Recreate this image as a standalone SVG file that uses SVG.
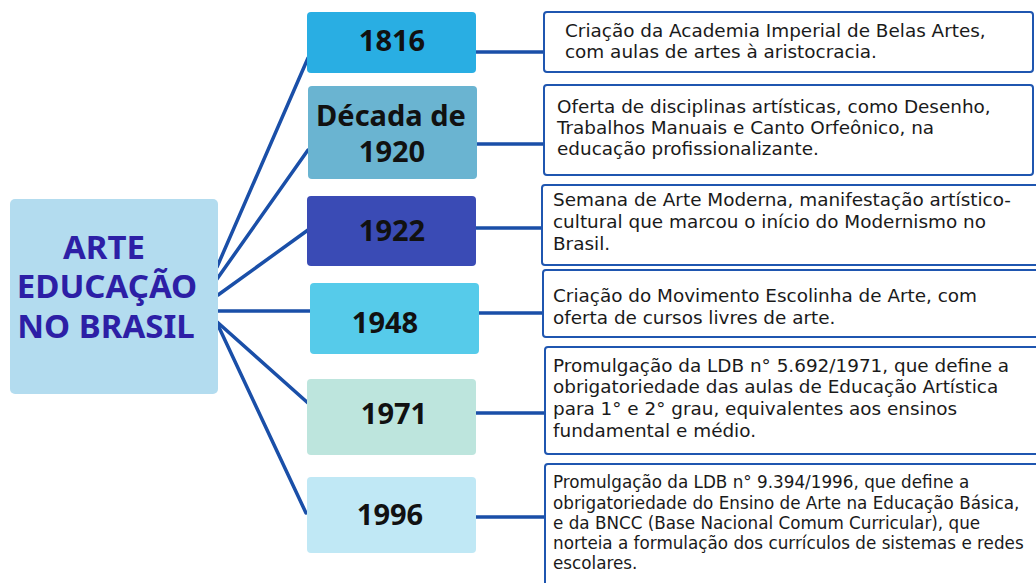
<svg xmlns="http://www.w3.org/2000/svg" width="1036" height="583" viewBox="0 0 1036 583">
<style>
.year{font-family:"Noto Sans","DejaVu Sans",sans-serif;font-weight:700;font-size:29px;fill:#111;text-anchor:middle}
.main{font-family:"Noto Sans","DejaVu Sans",sans-serif;font-weight:700;font-size:33px;fill:#2d1fa6;text-anchor:middle}
.desc{font-family:"DejaVu Sans",sans-serif;font-size:18.4px;fill:#1a1a1a}
.small{font-size:16.8px}
.tbox{fill:#ffffff;stroke:#1f56b0;stroke-width:2}
.conn line{stroke:#1a4fa8;stroke-width:3.5;stroke-linecap:round}
</style>
<rect width="1036" height="583" fill="#ffffff"/>
<g class="conn" id="connectors">
<line x1="217" y1="267" x2="308" y2="58"/>
<line x1="217" y1="279" x2="308" y2="150"/>
<line x1="218" y1="295" x2="308" y2="230"/>
<line x1="218" y1="311" x2="310" y2="311"/>
<line x1="216" y1="321" x2="308" y2="403"/>
<line x1="216" y1="321" x2="306" y2="513"/>
<line x1="476" y1="52" x2="544" y2="52"/>
<line x1="477" y1="144" x2="544" y2="144"/>
<line x1="476" y1="228" x2="542" y2="228"/>
<line x1="479" y1="313" x2="543" y2="313"/>
<line x1="476" y1="413" x2="545" y2="413"/>
<line x1="476" y1="517" x2="545" y2="517"/>
</g>
<g id="main">
<rect x="10" y="199" width="208" height="195" rx="5" fill="#b3dcef"/>
<text class="main" x="104" y="259">ARTE</text>
<text class="main" x="107" y="298">EDUCAÇÃO</text>
<text class="main" x="106" y="338">NO BRASIL</text>
</g>
<g id="y1816">
<rect x="307" y="12" width="169" height="61" rx="4" fill="#29aee3"/>
<text class="year" x="392" y="51">1816</text>
</g>
<g id="y1920">
<rect x="308" y="86" width="169" height="93" rx="4" fill="#6ab4d1"/>
<text class="year" x="391" y="126">Década de</text>
<text class="year" x="392" y="162">1920</text>
</g>
<g id="y1922">
<rect x="307" y="196" width="169" height="70" rx="4" fill="#3a4bb5"/>
<text class="year" x="392" y="241">1922</text>
</g>
<g id="y1948">
<rect x="310" y="283" width="169" height="71" rx="4" fill="#56cbea"/>
<text class="year" x="385" y="333">1948</text>
</g>
<g id="y1971">
<rect x="307" y="379" width="169" height="76" rx="4" fill="#bde5dd"/>
<text class="year" x="394" y="424">1971</text>
</g>
<g id="y1996">
<rect x="307" y="477" width="169" height="76" rx="4" fill="#c0e8f5"/>
<text class="year" x="390" y="525">1996</text>
</g>
<g id="d1816">
<rect class="tbox" x="544" y="12" width="489" height="60" rx="3"/>
<text class="desc" x="565" y="37">Criação da Academia Imperial de Belas Artes,</text>
<text class="desc" x="565" y="58">com aulas de artes à aristocracia.</text>
</g>
<g id="d1920">
<rect class="tbox" x="544" y="85" width="489" height="90" rx="3"/>
<text class="desc" x="557" y="113">Oferta de disciplinas artísticas, como Desenho,</text>
<text class="desc" x="557" y="134">Trabalhos Manuais e Canto Orfeônico, na</text>
<text class="desc" x="557" y="155">educação profissionalizante.</text>
</g>
<g id="d1922">
<rect class="tbox" x="542" y="185" width="500" height="80" rx="3"/>
<text class="desc" x="553" y="206">Semana de Arte Moderna, manifestação artístico-</text>
<text class="desc" x="553" y="228">cultural que marcou o início do Modernismo no</text>
<text class="desc" x="553" y="250">Brasil.</text>
</g>
<g id="d1948">
<rect class="tbox" x="543" y="270" width="500" height="67" rx="3"/>
<text class="desc" x="553" y="302">Criação do Movimento Escolinha de Arte, com</text>
<text class="desc" x="553" y="324">oferta de cursos livres de arte.</text>
</g>
<g id="d1971">
<rect class="tbox" x="545" y="347" width="500" height="107" rx="3"/>
<text class="desc" x="553" y="372">Promulgação da LDB n° 5.692/1971, que define a</text>
<text class="desc" x="553" y="393">obrigatoriedade das aulas de Educação Artística</text>
<text class="desc" x="553" y="415">para 1° e 2° grau, equivalentes aos ensinos</text>
<text class="desc" x="553" y="437">fundamental e médio.</text>
</g>
<g id="d1996">
<rect class="tbox" x="545" y="464" width="500" height="130" rx="3"/>
<text class="desc small" x="553" y="488">Promulgação da LDB n° 9.394/1996, que define a</text>
<text class="desc small" x="553" y="509">obrigatoriedade do Ensino de Arte na Educação Básica,</text>
<text class="desc small" x="553" y="529">e da BNCC (Base Nacional Comum Curricular), que</text>
<text class="desc small" x="553" y="549">norteia a formulação dos currículos de sistemas e redes</text>
<text class="desc small" x="553" y="569">escolares.</text>
</g>
</svg>
